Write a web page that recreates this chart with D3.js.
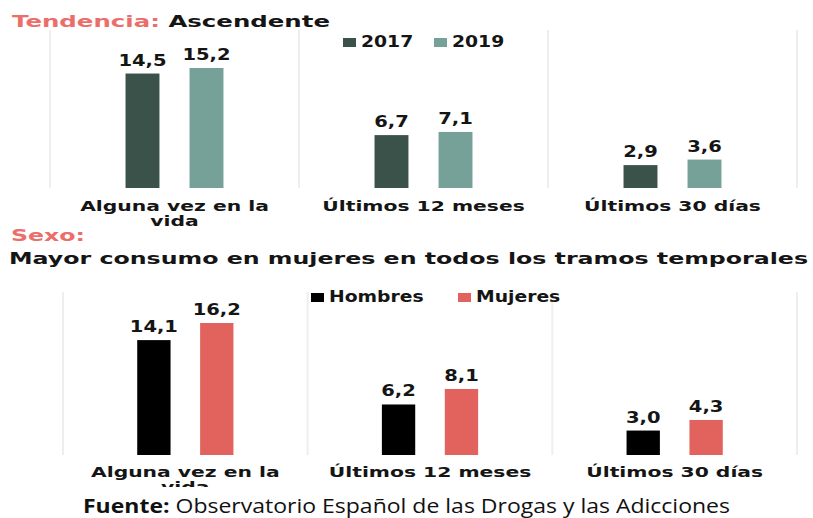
<!DOCTYPE html>
<html>
<head>
<meta charset="utf-8">
<script src="https://cdn.jsdelivr.net/npm/d3@7/dist/d3.min.js"></script>
<style>
  html, body { margin: 0; padding: 0; background: #fff; }
  svg { display: block; }
  .g { font-family: "DejaVu Sans", sans-serif; font-weight: bold; fill: #151515; }
</style>
</head>
<body>
<svg id="chart" width="813" height="518"></svg>
<script>
// ---- data ----
const categories = ["Alguna vez en la vida", "Últimos 12 meses", "Últimos 30 días"];
const trendSeries = ["2017", "2019"];
const trend2017 = [14.5, 6.7, 2.9];
const trend2019 = [15.2, 7.1, 3.6];
const sexSeries = ["Hombres", "Mujeres"];
const sexHombres = [14.1, 6.2, 3.0];
const sexMujeres = [16.2, 8.1, 4.3];

const trendColors = ["#3b524b", "#75a198"];
const sexColors = ["#000000", "#e2625d"];
const redText = "#ec6e6a";

const fmt = v => d3.format(".1f")(v).replace(".", ",");
const svg = d3.select("#chart");
const K = 1.45; // horizontal stretch of the geometric bold face (category labels)

function stretch(sel, k) {
  sel.each(function () {
    const len = this.getComputedTextLength();
    d3.select(this).attr("textLength", len * k).attr("lengthAdjust", "spacingAndGlyphs");
  });
}

// ---- headings ----
const t1 = svg.append("text").attr("class", "g").attr("x", 12).attr("y", 27).style("font-size", "16px");
t1.append("tspan").style("fill", redText).text("Tendencia: ");
t1.append("tspan").text("Ascendente");
t1.attr("textLength", 318).attr("lengthAdjust", "spacingAndGlyphs");

svg.append("text").attr("class", "g").attr("x", 11).attr("y", 241).style("font-size", "16px")
  .style("fill", redText).text("Sexo:")
  .attr("textLength", 74).attr("lengthAdjust", "spacingAndGlyphs");

svg.append("text").attr("class", "g").attr("x", 9).attr("y", 264).style("font-size", "16px")
  .text("Mayor consumo en mujeres en todos los tramos temporales")
  .attr("textLength", 799).attr("lengthAdjust", "spacingAndGlyphs");

// ---- panel builder ----
function panel(opts) {
  const g = svg.append("g");
  if (opts.clipY) {
    const id = "clip" + Math.round(opts.clipY);
    svg.append("clipPath").attr("id", id).append("rect")
      .attr("x", 0).attr("y", 0).attr("width", 813).attr("height", opts.clipY);
    g.attr("clip-path", `url(#${id})`);
  }
  const x0 = d3.scaleBand().domain(categories).range(opts.xRange);
  const x1 = d3.scaleBand().domain(opts.series).range([0, x0.bandwidth()])
    .paddingInner(0.47).paddingOuter(1.18);
  const vmax = d3.max(opts.values.flat());
  const y = d3.scaleLinear().domain([0, vmax]).range([opts.base, opts.top]);

  // separators
  const edges = categories.map(c => x0(c)).concat([x0.range()[1]]);
  g.selectAll("line.sep").data(edges).join("line")
    .attr("x1", d => d).attr("x2", d => d)
    .attr("y1", opts.sepTop).attr("y2", opts.base)
    .attr("stroke", "#eeeeee").attr("stroke-width", 2);

  // bars + values
  opts.series.forEach((s, si) => {
    const vals = opts.values[si];
    const bg = g.append("g");
    bg.selectAll("rect").data(categories).join("rect")
      .attr("x", (c) => x0(c) + x1(s))
      .attr("width", x1.bandwidth())
      .attr("y", (c, i) => y(vals[i]))
      .attr("height", (c, i) => y(0) - y(vals[i]))
      .attr("fill", opts.colors[si]);
    bg.selectAll("text").data(categories).join("text")
      .attr("class", "g")
      .attr("x", (c) => x0(c) + x1(s) + x1.bandwidth() / 2)
      .attr("y", (c, i) => y(vals[i]) - 8)
      .attr("text-anchor", "middle")
      .style("font-size", "15px")
      .text((c, i) => fmt(vals[i]))
      .call(stretch, 1.3);
  });

  // category labels (wrapped)
  categories.forEach(c => {
    const words = c.split(" ");
    const lines = [];
    let cur = [];
    const probe = g.append("text").attr("class", "g").style("font-size", "14px");
    words.forEach(w => {
      const test = cur.concat([w]).join(" ");
      probe.text(test);
      if (probe.node().getComputedTextLength() * K > 205 && cur.length) {
        lines.push(cur.join(" "));
        cur = [w];
      } else cur.push(w);
    });
    lines.push(cur.join(" "));
    probe.remove();
    lines.forEach((ln, li) => {
      g.append("text").attr("class", "g")
        .attr("x", x0(c) + x0.bandwidth() / 2)
        .attr("y", opts.labelY + li * 15)
        .attr("text-anchor", "middle")
        .style("font-size", "14px")
        .text(ln)
        .call(stretch, K);
    });
  });

  // legend
  opts.series.forEach((s, si) => {
    const lx = opts.legend[si];
    g.append("rect").attr("x", lx).attr("y", opts.legendY - 9)
      .attr("width", 13).attr("height", 9).attr("fill", opts.colors[si]);
    g.append("text").attr("class", "g")
      .attr("x", lx + 18).attr("y", opts.legendY)
      .style("font-size", "15px").text(s)
      .call(stretch, 1.25);
  });
}

panel({
  series: trendSeries, values: [trend2017, trend2019], colors: trendColors,
  xRange: [50, 797], base: 188, top: 68, sepTop: 30, labelY: 211,
  legend: [343, 434], legendY: 47
});

panel({
  series: sexSeries, values: [sexHombres, sexMujeres], colors: sexColors,
  xRange: [63, 797], base: 455, top: 323, sepTop: 292, labelY: 477,
  legend: [311, 458], legendY: 302, clipY: 487
});

// ---- source ----
const f = svg.append("text").attr("x", 83).attr("y", 513)
  .style("font-family", "'Open Sans', 'Noto Sans', sans-serif").style("font-size", "20px").style("fill", "#111");
f.append("tspan").style("font-weight", "bold").text("Fuente:");
f.append("tspan").text(" Observatorio Español de las Drogas y las Adicciones");
f.attr("textLength", 647).attr("lengthAdjust", "spacingAndGlyphs");
</script>
</body>
</html>
